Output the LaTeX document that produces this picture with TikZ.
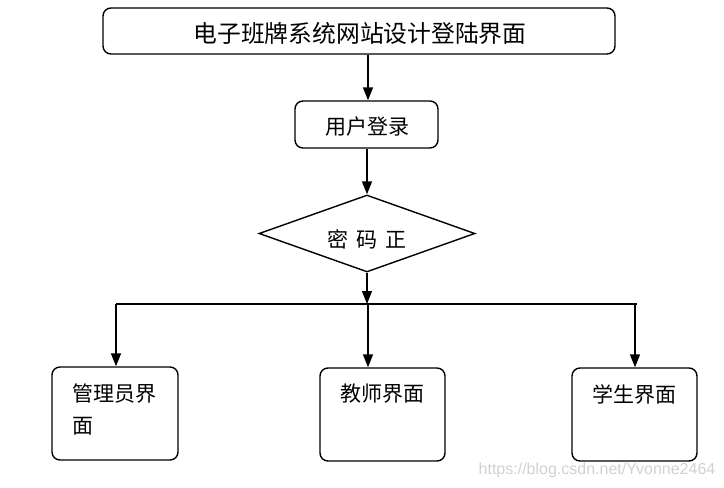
\documentclass[tikz,border=0pt]{standalone}
\usepackage{fontspec}
\setmainfont{Noto Sans CJK SC}
\newfontfamily\wmfont{Liberation Sans}
\usetikzlibrary{arrows.meta,shapes.geometric}
\begin{document}
\begin{tikzpicture}[x=1pt,y=-1pt,
  box/.style={draw,line width=1.4pt,rounded corners=8pt,inner sep=0pt},
  arr/.style={line width=1.4pt,-{Triangle[length=13pt,width=10pt]}},
  lbl/.style={inner sep=0pt,font=\fontsize{21}{32}\selectfont}
]
\useasboundingbox (0,0) rectangle (724,488);
\node[box,minimum width=512pt,minimum height=46pt] (top) at (359,31) {};
\node[lbl,font=\fontsize{23.8}{26}\selectfont] (toptxt) at (360,33) {电子班牌系统网站设计登陆界面};
\node[box,minimum width=143pt,minimum height=47pt] (login) at (366.5,124.5) {};
\node[lbl,font=\fontsize{21}{24}\selectfont] (logintxt) at (367,127) {用户登录};
\node[draw,line width=1.4pt,diamond,aspect=2.8,minimum width=216pt,minimum height=77pt,inner sep=0pt] (pwd) at (367,233.5) {};
\node[lbl] (pwdtxt) at (367,239) {密\hspace{8pt}码\hspace{8pt}正};
\coordinate (bus) at (367,304);
\coordinate (busL) at (116,304);
\coordinate (busR) at (637,304);
\node[box,minimum width=126pt,minimum height=93pt] (admin) at (115,413.5) {};
\node[box,minimum width=125pt,minimum height=93pt] (teacher) at (382.5,414.5) {};
\node[box,minimum width=125pt,minimum height=93pt] (student) at (634.5,414.5) {};
\node[lbl,anchor=north west,text width=100pt,align=left] (admintxt) at (72,384) {管理员界\\面};
\node[lbl,anchor=north west] (teachertxt) at (340,384) {教师界面};
\node[lbl,anchor=north west] (studenttxt) at (592,384) {学生界面};
\draw[arr] (top.south -| 368,0) -- (login.north -| 368,0);
\draw[arr] (login.south -| pwd.north) -- (pwd.north);
\draw[arr] (pwd.south) -- (bus);
\draw[line width=2.4pt] (busL) -- (busR);
\draw[arr] (busL) -- (busL |- admin.north);
\draw[arr] (bus -| 368,0) -- (teacher.north -| 368,0);
\draw[arr] (635,304) -- (student.north -| 635,0);
\node[inner sep=0pt,text=black!18,font=\wmfont\fontsize{16}{17}\selectfont] (wm) at (597,470) {https://blog.csdn.net/Yvonne2464};
\end{tikzpicture}
\end{document}
